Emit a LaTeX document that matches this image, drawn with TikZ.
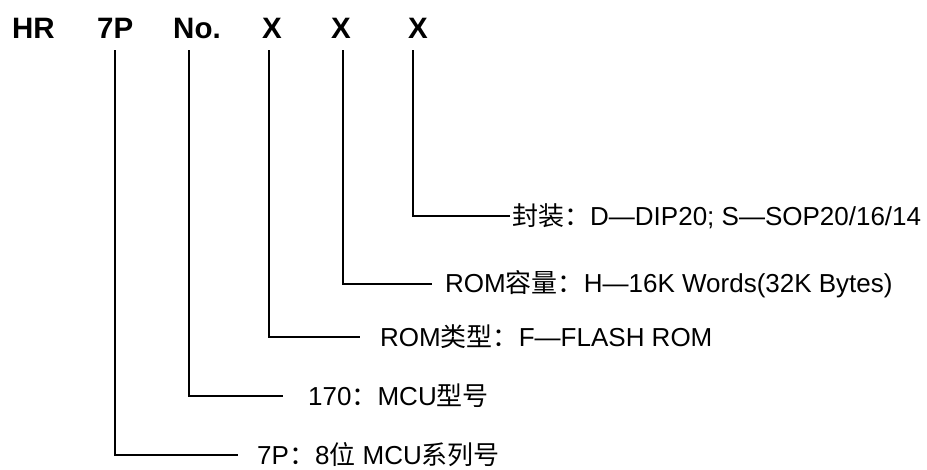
\documentclass[tikz,border=0pt]{standalone}
\usepackage{fontspec}
\setmainfont{Liberation Sans}
\newfontfamily\cjk{Noto Sans CJK SC}
\newcommand{\zh}[1]{{\cjk #1}}
\tikzset{
  code/.style={font=\fontsize{29.5}{34}\selectfont\bfseries, inner sep=0pt, anchor=base west},
  desc/.style={font=\fontsize{26}{30}\selectfont, inner sep=0pt, anchor=west},
  link/.style={line width=1.8pt}
}
\begin{document}
\begin{tikzpicture}[x=1pt,y=-1pt]
  \useasboundingbox (0,0) rectangle (927,470);
  % part number
  \node[code] (hr) at (12,39) {HR};
  \node[code] (sp) at (97,39) {7P};
  \node[code] (no) at (173,39) {No.};
  \node[code] (xa) at (262,39) {X};
  \node[code] (xb) at (331,39) {X};
  \node[code] (xc) at (408,39) {X};
  % meanings
  \node[desc] (dxc) at (512,216) {\zh{封装：}D—DIP20; S—SOP20/16/14};
  \node[desc] (dxb) at (445,284) {ROM\zh{容量：}H—16K Words(32K Bytes)};
  \node[desc] (dxa) at (380,337) {ROM\zh{类型：}F—FLASH ROM};
  \node[desc] (dno) at (308,396) {170\zh{：}MCU\zh{型号}};
  \node[desc] (dsp) at (257,455) {7P\zh{：}8\zh{位} MCU\zh{系列号}};
  % connectors
  \draw[link] ([xshift=-5]xc.south) ++(0,11) |- ([xshift=-2]dxc.west);
  \draw[link] ([xshift=2]xb.south) ++(0,11) |- ([xshift=-13]dxb.west);
  \draw[link] ([xshift=-3]xa.south) ++(0,11) |- ([xshift=-20]dxa.west);
  \draw[link] ([xshift=-8]no.south) ++(0,11) |- ([xshift=-25]dno.west);
  \draw[link] ([xshift=0]sp.south) ++(0,11) |- ([xshift=-19]dsp.west);
\end{tikzpicture}
\end{document}
